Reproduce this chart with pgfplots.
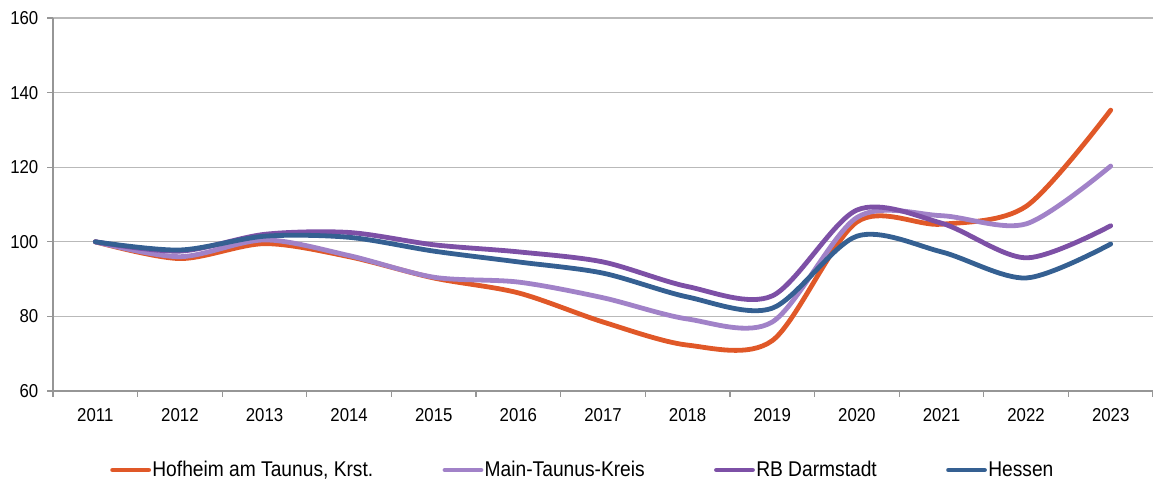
\documentclass[border=0pt]{standalone}
\usepackage{fontspec}
\setmainfont{Liberation Sans}[FakeStretch=0.9]
\usepackage{pgfplots}
\pgfplotsset{compat=1.18}

\definecolor{hofheim}{RGB}{224,88,40}
\definecolor{mtk}{RGB}{161,130,200}
\definecolor{rbda}{RGB}{125,80,166}
\definecolor{hessen}{RGB}{53,96,146}
\definecolor{axgray}{RGB}{150,150,150}
\definecolor{grgray}{RGB}{185,185,185}

\begin{document}
\begin{tikzpicture}
\begin{axis}[
    scale only axis,
    width=825pt,
    height=279.75pt,
    xmin=-0.5, xmax=12.5,
    ymin=60, ymax=160,
    axis x line*=bottom,
    axis y line*=left,
    axis line style={draw=axgray, line width=0.9pt, -},
    ytick={60,80,...,160},
    ymajorgrids,
    grid style={draw=grgray, line width=0.8pt},
    xtick={0,...,12},
    xticklabels={2011,2012,2013,2014,2015,2016,2017,2018,2019,2020,2021,2022,2023},
    minor xtick={-0.5,0.5,...,12.5},
    major x tick style={draw=none},
    tick style={draw=axgray, line width=0.9pt},
    tick align=outside,
    major tick length=4.5pt,
    minor tick length=4.5pt,
    font=\fontsize{14}{16}\selectfont,
    ticklabel style={font=\fontsize{14}{16}\selectfont},
    /pgf/number format/assume math mode=true,
    yticklabel style={xshift=-3pt},
    xticklabel style={yshift=-5pt},
    legend columns=4,
    legend style={draw=none, fill=none, at={(0.0518,-0.2118)}, anchor=west,
        inner sep=0pt,
        font=\fontsize{16}{18}\selectfont,
        nodes={inner xsep=1pt},
        /tikz/every even column/.append style={column sep=51pt}},
    legend image code/.code={\draw[#1, line width=3.6pt, line cap=round] (0pt,0pt)--(27pt,0pt);},
    every axis plot/.append style={line width=3.6pt, smooth, line cap=round, line join=round},
]
\addplot[hofheim] coordinates {
(0,100)(1,95.5)(2,99.5)(3,96)(4,90.3)(5,86.3)(6,78.5)(7,72.3)(8,73.5)(9,105.3)(10,104.7)(11,109.5)(12,135.3)};
\addlegendentry{Hofheim am Taunus, Krst.}
\addplot[mtk] coordinates {
(0,100)(1,96)(2,100.5)(3,96.3)(4,90.5)(5,89.2)(6,85)(7,79.3)(8,78.5)(9,106.5)(10,107)(11,104.8)(12,120.3)};
\addlegendentry{Main-Taunus-Kreis}
\addplot[rbda] coordinates {
(0,100)(1,97.5)(2,102)(3,102.5)(4,99.2)(5,97.3)(6,94.6)(7,88)(8,85.5)(9,108.5)(10,105)(11,95.7)(12,104.3)};
\addlegendentry{RB Darmstadt}
\addplot[hessen] coordinates {
(0,100)(1,97.8)(2,101.5)(3,101.2)(4,97.5)(5,94.6)(6,91.6)(7,85.2)(8,82.2)(9,101.5)(10,97.3)(11,90.3)(12,99.4)};
\addlegendentry{Hessen}
\end{axis}
\pgfresetboundingbox
\path (-39.75pt,-69.75pt) rectangle (825pt,293.25pt);
\end{tikzpicture}
\end{document}
